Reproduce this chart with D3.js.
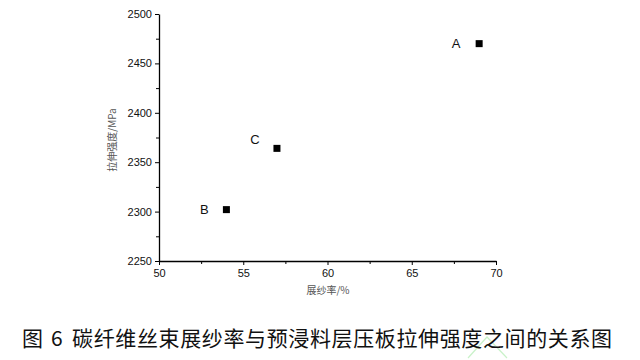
<!DOCTYPE html>
<html><head><meta charset="utf-8">
<script src="https://cdn.jsdelivr.net/npm/d3@7"></script>
<style>body{margin:0;background:#fff}svg{display:block}</style>
</head><body>
<svg id="c" width="640" height="360"></svg>
<script>
const labels = ["A", "B", "C"];
const spreadRate = [69.0, 54.0, 57.0];
const strength = [2470, 2302, 2364];
const xTicks = [50, 55, 60, 65, 70];
const yTicks = [2250, 2300, 2350, 2400, 2450, 2500];
const xTitle = "展纱率/%";
const yTitle = "拉伸强度/MPa";
const captionParts = ["图", "6", "碳纤维丝束展纱率与预浸料层压板拉伸强度之间的关系图"];

const svg = d3.select("#c");
const x = d3.scaleLinear().domain([50, 70]).range([159, 496]);
const y = d3.scaleLinear().domain([2250, 2500]).range([261, 14]);
const fmt = d3.format("d");

const gx = svg.append("g").attr("transform", `translate(0,${y(2250)})`)
  .call(d3.axisBottom(x).tickValues(xTicks).tickFormat(fmt).tickSize(4).tickSizeOuter(0).tickPadding(4));
gx.append("g").call(d3.axisBottom(x).tickValues(d3.range(52.5, 70, 5)).tickSize(3).tickFormat(""))
  .select(".domain").remove();
const gy = svg.append("g").attr("transform", `translate(${x(50)},0)`)
  .call(d3.axisLeft(y).tickValues(yTicks).tickFormat(fmt).tickSize(4).tickSizeOuter(0).tickPadding(3));
gy.append("g").call(d3.axisLeft(y).tickValues(d3.range(2275, 2500, 50)).tickSize(3).tickFormat(""))
  .select(".domain").remove();
svg.selectAll(".domain").attr("stroke", "#000").attr("stroke-width", 1.3);
svg.selectAll(".tick line").attr("stroke", "#000").attr("stroke-width", 1);
svg.selectAll(".tick text").attr("font-family", "Liberation Sans, Arial, sans-serif").attr("font-size", 11).attr("fill", "#111");

const data = labels.map((l, i) => ({l, xv: spreadRate[i], yv: strength[i]}));
svg.append("g").selectAll("rect").data(data).join("rect")
  .attr("x", d => x(d.xv) - 3.5).attr("y", d => y(d.yv) - 3.5)
  .attr("width", 7).attr("height", 7).attr("fill", "#000");
const off = {A: [-23, 1], B: [-22, 1], C: [-22, -8]};
svg.append("g").selectAll("text").data(data).join("text")
  .attr("x", d => x(d.xv) + off[d.l][0]).attr("y", d => y(d.yv) + off[d.l][1])
  .attr("dominant-baseline", "middle").attr("text-anchor", "middle")
  .attr("font-family", "Liberation Sans, Arial, sans-serif").attr("font-size", 13).attr("fill", "#111")
  .text(d => d.l);

svg.append("text").attr("x", 328).attr("y", 291).attr("text-anchor", "middle").attr("dominant-baseline", "middle")
  .attr("font-family", "Noto Sans CJK SC").attr("font-size", 10).attr("fill", "#555").text(xTitle);
svg.append("text").attr("transform", "translate(113,140) rotate(-90)").attr("text-anchor", "middle").attr("dominant-baseline", "middle")
  .attr("font-family", "Noto Sans CJK SC").attr("font-size", 10).attr("fill", "#555").text(yTitle);

// faint watermark chevron
svg.append("path").attr("d", "M468,358 L487,337 L507,358").attr("fill", "none")
  .attr("stroke", "#c9f2c9").attr("stroke-width", 1.2);

const cap = svg.append("g").attr("font-family", "Noto Sans CJK SC").attr("font-weight", 400)
  .attr("font-size", 21).attr("fill", "#111");
cap.append("text").attr("x", 22).attr("y", 340).attr("dominant-baseline", "middle").text(captionParts[0]);
cap.append("text").attr("x", 51).attr("y", 340).attr("dominant-baseline", "middle").text(captionParts[1]);
cap.append("text").attr("x", 72).attr("y", 340).attr("dominant-baseline", "middle")
  .attr("textLength", 540).attr("lengthAdjust", "spacing").text(captionParts[2]);
</script>
</body></html>
